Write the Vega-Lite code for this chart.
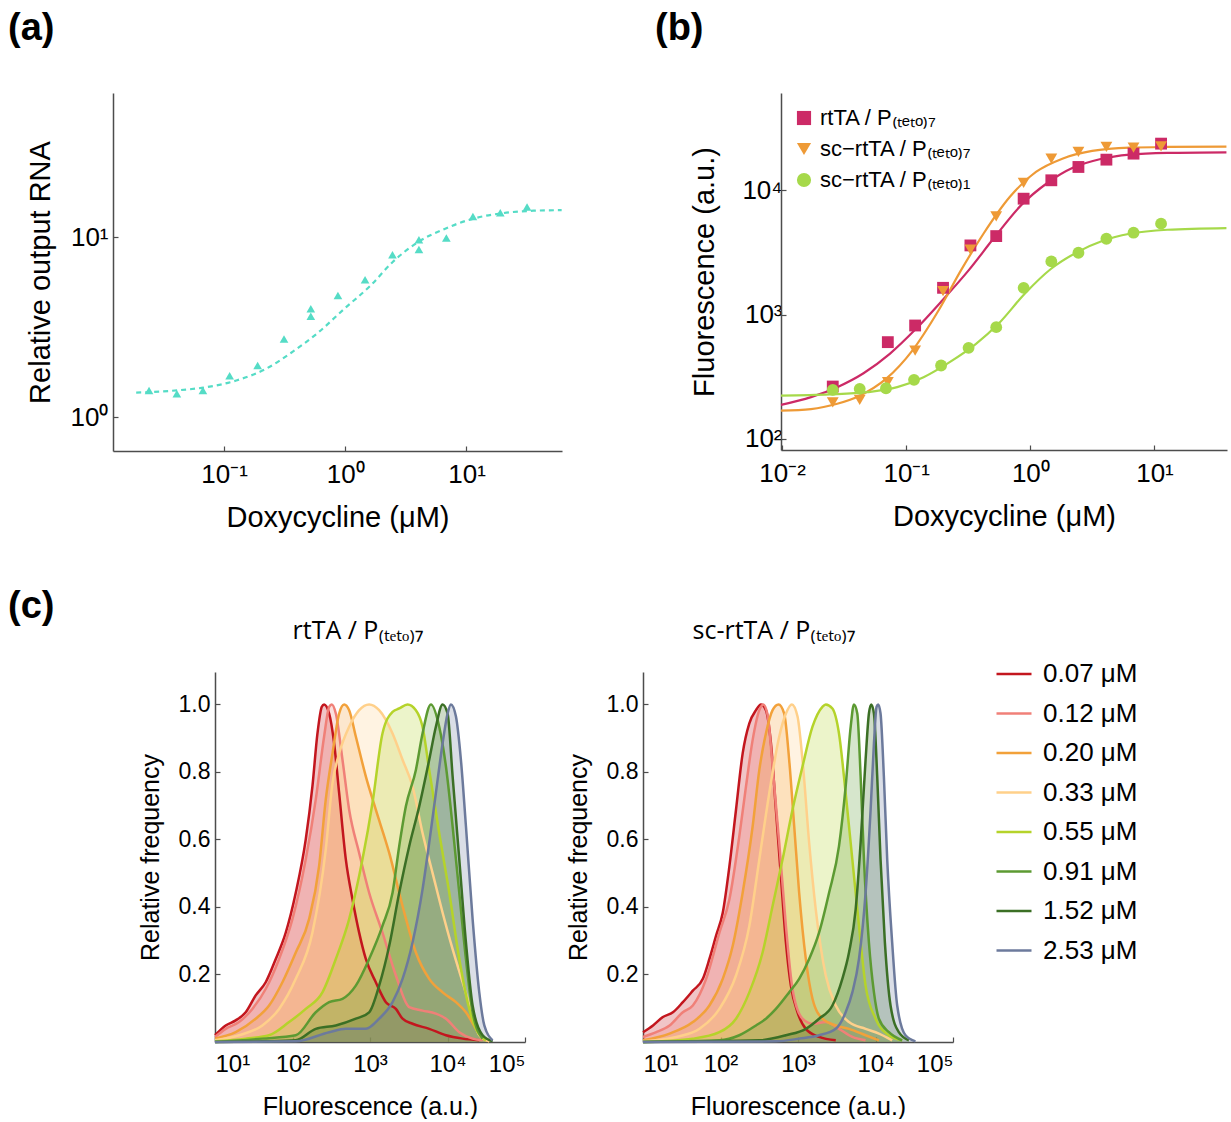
{
  "$schema": "https://vega.github.io/schema/vega-lite/v6.json",
  "background": "white",
  "padding": {"left": 8, "top": 10, "right": 0, "bottom": 0},
  "config": {
    "view": {"stroke": null},
    "font": "Liberation Sans",
    "axis": {"grid": false, "domainColor": "#4d4d4d", "tickColor": "#4d4d4d", "domainWidth": 1.5, "tickWidth": 1.2, "tickSize": -5, "labelPadding": 10, "labelColor": "black", "titleColor": "black", "titleFontWeight": "normal", "labelFont": "Liberation Sans", "titleFont": "Liberation Sans"},
    "legend": {"labelFont": "Liberation Sans", "labelColor": "black"},
    "title": {"color": "black"}
  },
  "datasets": {
    "aPts": [
      {"dox": 0.024, "rna": 1.41}, {"dox": 0.0407, "rna": 1.35}, {"dox": 0.0668, "rna": 1.41}, {"dox": 0.111, "rna": 1.70},
      {"dox": 0.189, "rna": 1.94}, {"dox": 0.312, "rna": 2.72}, {"dox": 0.519, "rna": 4.0}, {"dox": 0.519, "rna": 3.64},
      {"dox": 0.869, "rna": 4.74}, {"dox": 1.455, "rna": 5.79}, {"dox": 2.45, "rna": 7.98}, {"dox": 4.05, "rna": 9.67},
      {"dox": 4.05, "rna": 8.54}, {"dox": 6.82, "rna": 9.87}, {"dox": 11.3, "rna": 13.0}, {"dox": 19.0, "rna": 13.65},
      {"dox": 31.6, "rna": 14.7}
    ],
    "aFit": [
      {"dox": 0.0188, "rna": 1.37}, {"dox": 0.0407, "rna": 1.41}, {"dox": 0.0718, "rna": 1.47}, {"dox": 0.126, "rna": 1.60},
      {"dox": 0.222, "rna": 1.86}, {"dox": 0.364, "rna": 2.30}, {"dox": 0.60, "rna": 2.96}, {"dox": 0.98, "rna": 4.0},
      {"dox": 1.61, "rna": 5.37}, {"dox": 2.45, "rna": 7.25}, {"dox": 4.0, "rna": 9.4}, {"dox": 6.6, "rna": 11.1},
      {"dox": 11.6, "rna": 12.7}, {"dox": 20.4, "rna": 13.6}, {"dox": 35.8, "rna": 14.0}, {"dox": 61, "rna": 14.1}
    ],
    "bPts": [
      {"construct": "rtTA / P₍ₜₑₜₒ₎₇", "dox": 0.0256, "fluor": 264}, {"construct": "rtTA / P₍ₜₑₜₒ₎₇", "dox": 0.0711, "fluor": 601},
      {"construct": "rtTA / P₍ₜₑₜₒ₎₇", "dox": 0.118, "fluor": 818}, {"construct": "rtTA / P₍ₜₑₜₒ₎₇", "dox": 0.198, "fluor": 1644},
      {"construct": "rtTA / P₍ₜₑₜₒ₎₇", "dox": 0.329, "fluor": 3606}, {"construct": "rtTA / P₍ₜₑₜₒ₎₇", "dox": 0.531, "fluor": 4285},
      {"construct": "rtTA / P₍ₜₑₜₒ₎₇", "dox": 0.883, "fluor": 8570}, {"construct": "rtTA / P₍ₜₑₜₒ₎₇", "dox": 1.476, "fluor": 12050},
      {"construct": "rtTA / P₍ₜₑₜₒ₎₇", "dox": 2.44, "fluor": 15420}, {"construct": "rtTA / P₍ₜₑₜₒ₎₇", "dox": 4.10, "fluor": 17660},
      {"construct": "rtTA / P₍ₜₑₜₒ₎₇", "dox": 6.78, "fluor": 19740}, {"construct": "rtTA / P₍ₜₑₜₒ₎₇", "dox": 11.3, "fluor": 23760},
      {"construct": "sc−rtTA / P₍ₜₑₜₒ₎₇", "dox": 0.0256, "fluor": 197}, {"construct": "sc−rtTA / P₍ₜₑₜₒ₎₇", "dox": 0.0422, "fluor": 206},
      {"construct": "sc−rtTA / P₍ₜₑₜₒ₎₇", "dox": 0.0711, "fluor": 286}, {"construct": "sc−rtTA / P₍ₜₑₜₒ₎₇", "dox": 0.118, "fluor": 514},
      {"construct": "sc−rtTA / P₍ₜₑₜₒ₎₇", "dox": 0.198, "fluor": 1545}, {"construct": "sc−rtTA / P₍ₜₑₜₒ₎₇", "dox": 0.329, "fluor": 3328},
      {"construct": "sc−rtTA / P₍ₜₑₜₒ₎₇", "dox": 0.531, "fluor": 6175}, {"construct": "sc−rtTA / P₍ₜₑₜₒ₎₇", "dox": 0.883, "fluor": 11460},
      {"construct": "sc−rtTA / P₍ₜₑₜₒ₎₇", "dox": 1.476, "fluor": 17990}, {"construct": "sc−rtTA / P₍ₜₑₜₒ₎₇", "dox": 2.44, "fluor": 20360},
      {"construct": "sc−rtTA / P₍ₜₑₜₒ₎₇", "dox": 4.10, "fluor": 22340}, {"construct": "sc−rtTA / P₍ₜₑₜₒ₎₇", "dox": 6.78, "fluor": 22060},
      {"construct": "sc−rtTA / P₍ₜₑₜₒ₎₇", "dox": 11.3, "fluor": 22590},
      {"construct": "sc−rtTA / P₍ₜₑₜₒ₎₁", "dox": 0.0256, "fluor": 248}, {"construct": "sc−rtTA / P₍ₜₑₜₒ₎₁", "dox": 0.0422, "fluor": 253},
      {"construct": "sc−rtTA / P₍ₜₑₜₒ₎₁", "dox": 0.0687, "fluor": 256}, {"construct": "sc−rtTA / P₍ₜₑₜₒ₎₁", "dox": 0.1156, "fluor": 299},
      {"construct": "sc−rtTA / P₍ₜₑₜₒ₎₁", "dox": 0.191, "fluor": 390}, {"construct": "sc−rtTA / P₍ₜₑₜₒ₎₁", "dox": 0.318, "fluor": 541},
      {"construct": "sc−rtTA / P₍ₜₑₜₒ₎₁", "dox": 0.531, "fluor": 793}, {"construct": "sc−rtTA / P₍ₜₑₜₒ₎₁", "dox": 0.883, "fluor": 1644},
      {"construct": "sc−rtTA / P₍ₜₑₜₒ₎₁", "dox": 1.476, "fluor": 2680}, {"construct": "sc−rtTA / P₍ₜₑₜₒ₎₁", "dox": 2.44, "fluor": 3146},
      {"construct": "sc−rtTA / P₍ₜₑₜₒ₎₁", "dox": 4.10, "fluor": 4080}, {"construct": "sc−rtTA / P₍ₜₑₜₒ₎₁", "dox": 6.78, "fluor": 4563},
      {"construct": "sc−rtTA / P₍ₜₑₜₒ₎₁", "dox": 11.3, "fluor": 5393}
    ],
    "bFit": [
      {"construct": "rtTA / P₍ₜₑₜₒ₎₇", "dox": 0.0098, "fluor": 188}, {"construct": "rtTA / P₍ₜₑₜₒ₎₇", "dox": 0.0171, "fluor": 217},
      {"construct": "rtTA / P₍ₜₑₜₒ₎₇", "dox": 0.0278, "fluor": 261}, {"construct": "rtTA / P₍ₜₑₜₒ₎₇", "dox": 0.0453, "fluor": 338},
      {"construct": "rtTA / P₍ₜₑₜₒ₎₇", "dox": 0.0737, "fluor": 484}, {"construct": "rtTA / P₍ₜₑₜₒ₎₇", "dox": 0.120, "fluor": 769},
      {"construct": "rtTA / P₍ₜₑₜₒ₎₇", "dox": 0.195, "fluor": 1300}, {"construct": "rtTA / P₍ₜₑₜₒ₎₇", "dox": 0.318, "fluor": 2270},
      {"construct": "rtTA / P₍ₜₑₜₒ₎₇", "dox": 0.516, "fluor": 4210}, {"construct": "rtTA / P₍ₜₑₜₒ₎₇", "dox": 0.840, "fluor": 7570},
      {"construct": "rtTA / P₍ₜₑₜₒ₎₇", "dox": 1.37, "fluor": 11460}, {"construct": "rtTA / P₍ₜₑₜₒ₎₇", "dox": 2.22, "fluor": 15240},
      {"construct": "rtTA / P₍ₜₑₜₒ₎₇", "dox": 3.62, "fluor": 17780}, {"construct": "rtTA / P₍ₜₑₜₒ₎₇", "dox": 6.32, "fluor": 19380},
      {"construct": "rtTA / P₍ₜₑₜₒ₎₇", "dox": 12.7, "fluor": 19990}, {"construct": "rtTA / P₍ₜₑₜₒ₎₇", "dox": 38, "fluor": 20220},
      {"construct": "sc−rtTA / P₍ₜₑₜₒ₎₇", "dox": 0.0098, "fluor": 169}, {"construct": "sc−rtTA / P₍ₜₑₜₒ₎₇", "dox": 0.0171, "fluor": 174},
      {"construct": "sc−rtTA / P₍ₜₑₜₒ₎₇", "dox": 0.0278, "fluor": 192}, {"construct": "sc−rtTA / P₍ₜₑₜₒ₎₇", "dox": 0.0422, "fluor": 223},
      {"construct": "sc−rtTA / P₍ₜₑₜₒ₎₇", "dox": 0.0687, "fluor": 304}, {"construct": "sc−rtTA / P₍ₜₑₜₒ₎₇", "dox": 0.112, "fluor": 514},
      {"construct": "sc−rtTA / P₍ₜₑₜₒ₎₇", "dox": 0.182, "fluor": 1080}, {"construct": "sc−rtTA / P₍ₜₑₜₒ₎₇", "dox": 0.276, "fluor": 2270},
      {"construct": "sc−rtTA / P₍ₜₑₜₒ₎₇", "dox": 0.419, "fluor": 4475}, {"construct": "sc−rtTA / P₍ₜₑₜₒ₎₇", "dox": 0.682, "fluor": 8830},
      {"construct": "sc−rtTA / P₍ₜₑₜₒ₎₇", "dox": 1.11, "fluor": 14060}, {"construct": "sc−rtTA / P₍ₜₑₜₒ₎₇", "dox": 1.81, "fluor": 17990},
      {"construct": "sc−rtTA / P₍ₜₑₜₒ₎₇", "dox": 3.15, "fluor": 20750}, {"construct": "sc−rtTA / P₍ₜₑₜₒ₎₇", "dox": 6.32, "fluor": 22060},
      {"construct": "sc−rtTA / P₍ₜₑₜₒ₎₇", "dox": 12.7, "fluor": 22340}, {"construct": "sc−rtTA / P₍ₜₑₜₒ₎₇", "dox": 38, "fluor": 22470},
      {"construct": "sc−rtTA / P₍ₜₑₜₒ₎₁", "dox": 0.0098, "fluor": 223}, {"construct": "sc−rtTA / P₍ₜₑₜₒ₎₁", "dox": 0.0242, "fluor": 228},
      {"construct": "sc−rtTA / P₍ₜₑₜₒ₎₁", "dox": 0.0485, "fluor": 238}, {"construct": "sc−rtTA / P₍ₜₑₜₒ₎₁", "dox": 0.0846, "fluor": 261},
      {"construct": "sc−rtTA / P₍ₜₑₜₒ₎₁", "dox": 0.138, "fluor": 314}, {"construct": "sc−rtTA / P₍ₜₑₜₒ₎₁", "dox": 0.224, "fluor": 415},
      {"construct": "sc−rtTA / P₍ₜₑₜₒ₎₁", "dox": 0.365, "fluor": 582}, {"construct": "sc−rtTA / P₍ₜₑₜₒ₎₁", "dox": 0.553, "fluor": 844},
      {"construct": "sc−rtTA / P₍ₜₑₜₒ₎₁", "dox": 0.901, "fluor": 1473}, {"construct": "sc−rtTA / P₍ₜₑₜₒ₎₁", "dox": 1.47, "fluor": 2340},
      {"construct": "sc−rtTA / P₍ₜₑₜₒ₎₁", "dox": 2.39, "fluor": 3186}, {"construct": "sc−rtTA / P₍ₜₑₜₒ₎₁", "dox": 3.88, "fluor": 3954},
      {"construct": "sc−rtTA / P₍ₜₑₜₒ₎₁", "dox": 6.32, "fluor": 4475}, {"construct": "sc−rtTA / P₍ₜₑₜₒ₎₁", "dox": 12.7, "fluor": 4820},
      {"construct": "sc−rtTA / P₍ₜₑₜₒ₎₁", "dox": 38, "fluor": 4970}
    ],
    "c1": [
      {"dose": "0.07 μM", "logF": 1.000, "freq": 0.020}, {"dose": "0.07 μM", "logF": 1.138, "freq": 0.049}, {"dose": "0.07 μM", "logF": 1.267, "freq": 0.064},
      {"dose": "0.07 μM", "logF": 1.396, "freq": 0.088}, {"dose": "0.07 μM", "logF": 1.525, "freq": 0.138}, {"dose": "0.07 μM", "logF": 1.654, "freq": 0.177},
      {"dose": "0.07 μM", "logF": 1.784, "freq": 0.246}, {"dose": "0.07 μM", "logF": 1.913, "freq": 0.324}, {"dose": "0.07 μM", "logF": 2.042, "freq": 0.442},
      {"dose": "0.07 μM", "logF": 2.171, "freq": 0.600}, {"dose": "0.07 μM", "logF": 2.257, "freq": 0.757}, {"dose": "0.07 μM", "logF": 2.322, "freq": 0.914},
      {"dose": "0.07 μM", "logF": 2.378, "freq": 0.993}, {"dose": "0.07 μM", "logF": 2.408, "freq": 1.000}, {"dose": "0.07 μM", "logF": 2.473, "freq": 0.973},
      {"dose": "0.07 μM", "logF": 2.537, "freq": 0.885}, {"dose": "0.07 μM", "logF": 2.602, "freq": 0.737}, {"dose": "0.07 μM", "logF": 2.688, "freq": 0.541},
      {"dose": "0.07 μM", "logF": 2.774, "freq": 0.423}, {"dose": "0.07 μM", "logF": 2.860, "freq": 0.324}, {"dose": "0.07 μM", "logF": 2.946, "freq": 0.246},
      {"dose": "0.07 μM", "logF": 3.075, "freq": 0.177}, {"dose": "0.07 μM", "logF": 3.205, "freq": 0.118}, {"dose": "0.07 μM", "logF": 3.334, "freq": 0.098},
      {"dose": "0.07 μM", "logF": 3.420, "freq": 0.069}, {"dose": "0.07 μM", "logF": 3.549, "freq": 0.054}, {"dose": "0.07 μM", "logF": 3.764, "freq": 0.039},
      {"dose": "0.07 μM", "logF": 3.980, "freq": 0.020}, {"dose": "0.07 μM", "logF": 4.195, "freq": 0.010}, {"dose": "0.07 μM", "logF": 4.410, "freq": 0.005},

      {"dose": "0.12 μM", "logF": 1.000, "freq": 0.015}, {"dose": "0.12 μM", "logF": 1.138, "freq": 0.039}, {"dose": "0.12 μM", "logF": 1.310, "freq": 0.059},
      {"dose": "0.12 μM", "logF": 1.482, "freq": 0.098}, {"dose": "0.12 μM", "logF": 1.654, "freq": 0.157}, {"dose": "0.12 μM", "logF": 1.827, "freq": 0.246},
      {"dose": "0.12 μM", "logF": 1.999, "freq": 0.364}, {"dose": "0.12 μM", "logF": 2.171, "freq": 0.541}, {"dose": "0.12 μM", "logF": 2.300, "freq": 0.718},
      {"dose": "0.12 μM", "logF": 2.408, "freq": 0.905}, {"dose": "0.12 μM", "logF": 2.473, "freq": 0.993}, {"dose": "0.12 μM", "logF": 2.507, "freq": 1.000},
      {"dose": "0.12 μM", "logF": 2.559, "freq": 0.973}, {"dose": "0.12 μM", "logF": 2.645, "freq": 0.836}, {"dose": "0.12 μM", "logF": 2.731, "freq": 0.688},
      {"dose": "0.12 μM", "logF": 2.860, "freq": 0.560}, {"dose": "0.12 μM", "logF": 2.989, "freq": 0.442}, {"dose": "0.12 μM", "logF": 3.161, "freq": 0.324},
      {"dose": "0.12 μM", "logF": 3.334, "freq": 0.197}, {"dose": "0.12 μM", "logF": 3.506, "freq": 0.103}, {"dose": "0.12 μM", "logF": 3.678, "freq": 0.093},
      {"dose": "0.12 μM", "logF": 3.850, "freq": 0.084}, {"dose": "0.12 μM", "logF": 3.980, "freq": 0.069}, {"dose": "0.12 μM", "logF": 4.152, "freq": 0.029},
      {"dose": "0.12 μM", "logF": 4.324, "freq": 0.010}, {"dose": "0.12 μM", "logF": 4.453, "freq": 0.005},

      {"dose": "0.20 μM", "logF": 1.000, "freq": 0.010}, {"dose": "0.20 μM", "logF": 1.267, "freq": 0.029}, {"dose": "0.20 μM", "logF": 1.525, "freq": 0.069},
      {"dose": "0.20 μM", "logF": 1.698, "freq": 0.108}, {"dose": "0.20 μM", "logF": 1.870, "freq": 0.177}, {"dose": "0.20 μM", "logF": 2.042, "freq": 0.265},
      {"dose": "0.20 μM", "logF": 2.214, "freq": 0.364}, {"dose": "0.20 μM", "logF": 2.343, "freq": 0.521}, {"dose": "0.20 μM", "logF": 2.429, "freq": 0.718},
      {"dose": "0.20 μM", "logF": 2.516, "freq": 0.855}, {"dose": "0.20 μM", "logF": 2.602, "freq": 0.973}, {"dose": "0.20 μM", "logF": 2.666, "freq": 1.000},
      {"dose": "0.20 μM", "logF": 2.731, "freq": 0.983}, {"dose": "0.20 μM", "logF": 2.817, "freq": 0.905}, {"dose": "0.20 μM", "logF": 2.946, "freq": 0.787},
      {"dose": "0.20 μM", "logF": 3.075, "freq": 0.688}, {"dose": "0.20 μM", "logF": 3.248, "freq": 0.560}, {"dose": "0.20 μM", "logF": 3.420, "freq": 0.403},
      {"dose": "0.20 μM", "logF": 3.592, "freq": 0.265}, {"dose": "0.20 μM", "logF": 3.764, "freq": 0.187}, {"dose": "0.20 μM", "logF": 3.937, "freq": 0.147},
      {"dose": "0.20 μM", "logF": 4.109, "freq": 0.118}, {"dose": "0.20 μM", "logF": 4.238, "freq": 0.088}, {"dose": "0.20 μM", "logF": 4.367, "freq": 0.039},
      {"dose": "0.20 μM", "logF": 4.453, "freq": 0.010}, {"dose": "0.20 μM", "logF": 4.539, "freq": 0.002},

      {"dose": "0.33 μM", "logF": 1.000, "freq": 0.005}, {"dose": "0.33 μM", "logF": 1.310, "freq": 0.020}, {"dose": "0.33 μM", "logF": 1.611, "freq": 0.049},
      {"dose": "0.33 μM", "logF": 1.827, "freq": 0.098}, {"dose": "0.33 μM", "logF": 2.042, "freq": 0.187}, {"dose": "0.33 μM", "logF": 2.257, "freq": 0.324},
      {"dose": "0.33 μM", "logF": 2.429, "freq": 0.570}, {"dose": "0.33 μM", "logF": 2.516, "freq": 0.767}, {"dose": "0.33 μM", "logF": 2.602, "freq": 0.855},
      {"dose": "0.33 μM", "logF": 2.731, "freq": 0.934}, {"dose": "0.33 μM", "logF": 2.860, "freq": 0.983}, {"dose": "0.33 μM", "logF": 2.989, "freq": 1.000},
      {"dose": "0.33 μM", "logF": 3.118, "freq": 0.983}, {"dose": "0.33 μM", "logF": 3.291, "freq": 0.914}, {"dose": "0.33 μM", "logF": 3.420, "freq": 0.836},
      {"dose": "0.33 μM", "logF": 3.549, "freq": 0.757}, {"dose": "0.33 μM", "logF": 3.678, "freq": 0.619}, {"dose": "0.33 μM", "logF": 3.807, "freq": 0.501},
      {"dose": "0.33 μM", "logF": 3.937, "freq": 0.383}, {"dose": "0.33 μM", "logF": 4.066, "freq": 0.275}, {"dose": "0.33 μM", "logF": 4.195, "freq": 0.177},
      {"dose": "0.33 μM", "logF": 4.324, "freq": 0.079}, {"dose": "0.33 μM", "logF": 4.410, "freq": 0.020}, {"dose": "0.33 μM", "logF": 4.539, "freq": 0.002},

      {"dose": "0.55 μM", "logF": 1.000, "freq": 0.002}, {"dose": "0.55 μM", "logF": 1.396, "freq": 0.010}, {"dose": "0.55 μM", "logF": 1.698, "freq": 0.020},
      {"dose": "0.55 μM", "logF": 1.956, "freq": 0.059}, {"dose": "0.55 μM", "logF": 2.171, "freq": 0.098}, {"dose": "0.55 μM", "logF": 2.386, "freq": 0.147},
      {"dose": "0.55 μM", "logF": 2.559, "freq": 0.246}, {"dose": "0.55 μM", "logF": 2.731, "freq": 0.364}, {"dose": "0.55 μM", "logF": 2.903, "freq": 0.541},
      {"dose": "0.55 μM", "logF": 3.032, "freq": 0.708}, {"dose": "0.55 μM", "logF": 3.161, "freq": 0.914}, {"dose": "0.55 μM", "logF": 3.291, "freq": 0.978},
      {"dose": "0.55 μM", "logF": 3.377, "freq": 0.988}, {"dose": "0.55 μM", "logF": 3.484, "freq": 1.000}, {"dose": "0.55 μM", "logF": 3.592, "freq": 0.983},
      {"dose": "0.55 μM", "logF": 3.678, "freq": 0.934}, {"dose": "0.55 μM", "logF": 3.764, "freq": 0.806}, {"dose": "0.55 μM", "logF": 3.893, "freq": 0.619},
      {"dose": "0.55 μM", "logF": 4.023, "freq": 0.442}, {"dose": "0.55 μM", "logF": 4.152, "freq": 0.246}, {"dose": "0.55 μM", "logF": 4.281, "freq": 0.098},
      {"dose": "0.55 μM", "logF": 4.367, "freq": 0.039}, {"dose": "0.55 μM", "logF": 4.496, "freq": 0.005},

      {"dose": "0.91 μM", "logF": 1.000, "freq": 0.000}, {"dose": "0.91 μM", "logF": 1.611, "freq": 0.010}, {"dose": "0.91 μM", "logF": 2.042, "freq": 0.020},
      {"dose": "0.91 μM", "logF": 2.300, "freq": 0.088}, {"dose": "0.91 μM", "logF": 2.473, "freq": 0.118}, {"dose": "0.91 μM", "logF": 2.645, "freq": 0.128},
      {"dose": "0.91 μM", "logF": 2.817, "freq": 0.167}, {"dose": "0.91 μM", "logF": 2.989, "freq": 0.246}, {"dose": "0.91 μM", "logF": 3.161, "freq": 0.344},
      {"dose": "0.91 μM", "logF": 3.291, "freq": 0.442}, {"dose": "0.91 μM", "logF": 3.377, "freq": 0.580}, {"dose": "0.91 μM", "logF": 3.463, "freq": 0.698},
      {"dose": "0.91 μM", "logF": 3.592, "freq": 0.806}, {"dose": "0.91 μM", "logF": 3.678, "freq": 0.914}, {"dose": "0.91 μM", "logF": 3.786, "freq": 1.000},
      {"dose": "0.91 μM", "logF": 3.893, "freq": 0.934}, {"dose": "0.91 μM", "logF": 3.980, "freq": 0.816}, {"dose": "0.91 μM", "logF": 4.066, "freq": 0.639},
      {"dose": "0.91 μM", "logF": 4.152, "freq": 0.442}, {"dose": "0.91 μM", "logF": 4.238, "freq": 0.246}, {"dose": "0.91 μM", "logF": 4.324, "freq": 0.088},
      {"dose": "0.91 μM", "logF": 4.453, "freq": 0.010},

      {"dose": "1.52 μM", "logF": 1.000, "freq": 0.000}, {"dose": "1.52 μM", "logF": 1.611, "freq": 0.002}, {"dose": "1.52 μM", "logF": 2.042, "freq": 0.005},
      {"dose": "1.52 μM", "logF": 2.300, "freq": 0.039}, {"dose": "1.52 μM", "logF": 2.559, "freq": 0.049}, {"dose": "1.52 μM", "logF": 2.817, "freq": 0.069},
      {"dose": "1.52 μM", "logF": 2.989, "freq": 0.088}, {"dose": "1.52 μM", "logF": 3.118, "freq": 0.167}, {"dose": "1.52 μM", "logF": 3.248, "freq": 0.285},
      {"dose": "1.52 μM", "logF": 3.377, "freq": 0.442}, {"dose": "1.52 μM", "logF": 3.506, "freq": 0.580}, {"dose": "1.52 μM", "logF": 3.635, "freq": 0.698},
      {"dose": "1.52 μM", "logF": 3.764, "freq": 0.836}, {"dose": "1.52 μM", "logF": 3.850, "freq": 0.934}, {"dose": "1.52 μM", "logF": 3.937, "freq": 1.000},
      {"dose": "1.52 μM", "logF": 4.001, "freq": 0.973}, {"dose": "1.52 μM", "logF": 4.066, "freq": 0.787}, {"dose": "1.52 μM", "logF": 4.152, "freq": 0.541},
      {"dose": "1.52 μM", "logF": 4.238, "freq": 0.295}, {"dose": "1.52 μM", "logF": 4.324, "freq": 0.108}, {"dose": "1.52 μM", "logF": 4.453, "freq": 0.020},
      {"dose": "1.52 μM", "logF": 4.582, "freq": 0.002},

      {"dose": "2.53 μM", "logF": 1.000, "freq": 0.000}, {"dose": "2.53 μM", "logF": 2.042, "freq": 0.002}, {"dose": "2.53 μM", "logF": 2.473, "freq": 0.029},
      {"dose": "2.53 μM", "logF": 2.688, "freq": 0.039}, {"dose": "2.53 μM", "logF": 2.946, "freq": 0.039}, {"dose": "2.53 μM", "logF": 3.118, "freq": 0.069},
      {"dose": "2.53 μM", "logF": 3.291, "freq": 0.118}, {"dose": "2.53 μM", "logF": 3.420, "freq": 0.187}, {"dose": "2.53 μM", "logF": 3.549, "freq": 0.295},
      {"dose": "2.53 μM", "logF": 3.678, "freq": 0.452}, {"dose": "2.53 μM", "logF": 3.764, "freq": 0.590}, {"dose": "2.53 μM", "logF": 3.850, "freq": 0.737},
      {"dose": "2.53 μM", "logF": 3.937, "freq": 0.885}, {"dose": "2.53 μM", "logF": 4.001, "freq": 0.973}, {"dose": "2.53 μM", "logF": 4.044, "freq": 1.000},
      {"dose": "2.53 μM", "logF": 4.109, "freq": 0.964}, {"dose": "2.53 μM", "logF": 4.173, "freq": 0.836}, {"dose": "2.53 μM", "logF": 4.238, "freq": 0.639},
      {"dose": "2.53 μM", "logF": 4.324, "freq": 0.364}, {"dose": "2.53 μM", "logF": 4.410, "freq": 0.147}, {"dose": "2.53 μM", "logF": 4.475, "freq": 0.049},
      {"dose": "2.53 μM", "logF": 4.582, "freq": 0.005}
    ],
    "c2": [
      {"dose": "0.07 μM", "logF": 1.000, "freq": 0.029}, {"dose": "0.07 μM", "logF": 1.129, "freq": 0.049}, {"dose": "0.07 μM", "logF": 1.257, "freq": 0.074},
      {"dose": "0.07 μM", "logF": 1.386, "freq": 0.088}, {"dose": "0.07 μM", "logF": 1.514, "freq": 0.118}, {"dose": "0.07 μM", "logF": 1.643, "freq": 0.152},
      {"dose": "0.07 μM", "logF": 1.772, "freq": 0.187}, {"dose": "0.07 μM", "logF": 1.857, "freq": 0.246}, {"dose": "0.07 μM", "logF": 1.943, "freq": 0.315},
      {"dose": "0.07 μM", "logF": 2.029, "freq": 0.383}, {"dose": "0.07 μM", "logF": 2.115, "freq": 0.521}, {"dose": "0.07 μM", "logF": 2.200, "freq": 0.688},
      {"dose": "0.07 μM", "logF": 2.286, "freq": 0.855}, {"dose": "0.07 μM", "logF": 2.372, "freq": 0.944}, {"dose": "0.07 μM", "logF": 2.458, "freq": 0.983},
      {"dose": "0.07 μM", "logF": 2.522, "freq": 1.000}, {"dose": "0.07 μM", "logF": 2.586, "freq": 0.983}, {"dose": "0.07 μM", "logF": 2.651, "freq": 0.885},
      {"dose": "0.07 μM", "logF": 2.715, "freq": 0.688}, {"dose": "0.07 μM", "logF": 2.779, "freq": 0.492}, {"dose": "0.07 μM", "logF": 2.844, "freq": 0.295},
      {"dose": "0.07 μM", "logF": 2.908, "freq": 0.167}, {"dose": "0.07 μM", "logF": 2.994, "freq": 0.088}, {"dose": "0.07 μM", "logF": 3.101, "freq": 0.039},
      {"dose": "0.07 μM", "logF": 3.272, "freq": 0.015}, {"dose": "0.07 μM", "logF": 3.487, "freq": 0.005},

      {"dose": "0.12 μM", "logF": 1.000, "freq": 0.015}, {"dose": "0.12 μM", "logF": 1.171, "freq": 0.029}, {"dose": "0.12 μM", "logF": 1.343, "freq": 0.049},
      {"dose": "0.12 μM", "logF": 1.514, "freq": 0.088}, {"dose": "0.12 μM", "logF": 1.643, "freq": 0.108}, {"dose": "0.12 μM", "logF": 1.815, "freq": 0.187},
      {"dose": "0.12 μM", "logF": 1.986, "freq": 0.324}, {"dose": "0.12 μM", "logF": 2.115, "freq": 0.423}, {"dose": "0.12 μM", "logF": 2.243, "freq": 0.610},
      {"dose": "0.12 μM", "logF": 2.329, "freq": 0.757}, {"dose": "0.12 μM", "logF": 2.415, "freq": 0.895}, {"dose": "0.12 μM", "logF": 2.501, "freq": 0.983},
      {"dose": "0.12 μM", "logF": 2.552, "freq": 1.000}, {"dose": "0.12 μM", "logF": 2.608, "freq": 0.969}, {"dose": "0.12 μM", "logF": 2.672, "freq": 0.816},
      {"dose": "0.12 μM", "logF": 2.758, "freq": 0.590}, {"dose": "0.12 μM", "logF": 2.844, "freq": 0.344}, {"dose": "0.12 μM", "logF": 2.929, "freq": 0.157},
      {"dose": "0.12 μM", "logF": 3.058, "freq": 0.069}, {"dose": "0.12 μM", "logF": 3.187, "freq": 0.054}, {"dose": "0.12 μM", "logF": 3.358, "freq": 0.059},
      {"dose": "0.12 μM", "logF": 3.529, "freq": 0.039}, {"dose": "0.12 μM", "logF": 3.701, "freq": 0.015}, {"dose": "0.12 μM", "logF": 3.872, "freq": 0.005},

      {"dose": "0.20 μM", "logF": 1.000, "freq": 0.005}, {"dose": "0.20 μM", "logF": 1.343, "freq": 0.025}, {"dose": "0.20 μM", "logF": 1.643, "freq": 0.059},
      {"dose": "0.20 μM", "logF": 1.857, "freq": 0.108}, {"dose": "0.20 μM", "logF": 2.029, "freq": 0.187}, {"dose": "0.20 μM", "logF": 2.158, "freq": 0.285},
      {"dose": "0.20 μM", "logF": 2.286, "freq": 0.442}, {"dose": "0.20 μM", "logF": 2.415, "freq": 0.639}, {"dose": "0.20 μM", "logF": 2.501, "freq": 0.806},
      {"dose": "0.20 μM", "logF": 2.586, "freq": 0.914}, {"dose": "0.20 μM", "logF": 2.672, "freq": 0.983}, {"dose": "0.20 μM", "logF": 2.749, "freq": 1.000},
      {"dose": "0.20 μM", "logF": 2.822, "freq": 0.973}, {"dose": "0.20 μM", "logF": 2.886, "freq": 0.836}, {"dose": "0.20 μM", "logF": 2.951, "freq": 0.639},
      {"dose": "0.20 μM", "logF": 3.015, "freq": 0.442}, {"dose": "0.20 μM", "logF": 3.101, "freq": 0.246}, {"dose": "0.20 μM", "logF": 3.187, "freq": 0.128},
      {"dose": "0.20 μM", "logF": 3.315, "freq": 0.069}, {"dose": "0.20 μM", "logF": 3.487, "freq": 0.049}, {"dose": "0.20 μM", "logF": 3.658, "freq": 0.039},
      {"dose": "0.20 μM", "logF": 3.872, "freq": 0.020}, {"dose": "0.20 μM", "logF": 4.044, "freq": 0.005},

      {"dose": "0.33 μM", "logF": 1.000, "freq": 0.002}, {"dose": "0.33 μM", "logF": 1.429, "freq": 0.015}, {"dose": "0.33 μM", "logF": 1.729, "freq": 0.039},
      {"dose": "0.33 μM", "logF": 1.986, "freq": 0.098}, {"dose": "0.33 μM", "logF": 2.200, "freq": 0.197}, {"dose": "0.33 μM", "logF": 2.372, "freq": 0.344},
      {"dose": "0.33 μM", "logF": 2.501, "freq": 0.541}, {"dose": "0.33 μM", "logF": 2.629, "freq": 0.737}, {"dose": "0.33 μM", "logF": 2.758, "freq": 0.905},
      {"dose": "0.33 μM", "logF": 2.844, "freq": 0.973}, {"dose": "0.33 μM", "logF": 2.921, "freq": 1.000}, {"dose": "0.33 μM", "logF": 2.994, "freq": 0.964},
      {"dose": "0.33 μM", "logF": 3.058, "freq": 0.836}, {"dose": "0.33 μM", "logF": 3.144, "freq": 0.590}, {"dose": "0.33 μM", "logF": 3.229, "freq": 0.393},
      {"dose": "0.33 μM", "logF": 3.358, "freq": 0.197}, {"dose": "0.33 μM", "logF": 3.487, "freq": 0.108}, {"dose": "0.33 μM", "logF": 3.658, "freq": 0.059},
      {"dose": "0.33 μM", "logF": 3.872, "freq": 0.039}, {"dose": "0.33 μM", "logF": 4.044, "freq": 0.025}, {"dose": "0.33 μM", "logF": 4.215, "freq": 0.005},

      {"dose": "0.55 μM", "logF": 1.000, "freq": 0.000}, {"dose": "0.55 μM", "logF": 1.643, "freq": 0.010}, {"dose": "0.55 μM", "logF": 1.986, "freq": 0.029},
      {"dose": "0.55 μM", "logF": 2.200, "freq": 0.069}, {"dose": "0.55 μM", "logF": 2.372, "freq": 0.147}, {"dose": "0.55 μM", "logF": 2.543, "freq": 0.265},
      {"dose": "0.55 μM", "logF": 2.672, "freq": 0.403}, {"dose": "0.55 μM", "logF": 2.801, "freq": 0.541}, {"dose": "0.55 μM", "logF": 2.929, "freq": 0.688},
      {"dose": "0.55 μM", "logF": 3.058, "freq": 0.816}, {"dose": "0.55 μM", "logF": 3.187, "freq": 0.934}, {"dose": "0.55 μM", "logF": 3.315, "freq": 0.993},
      {"dose": "0.55 μM", "logF": 3.358, "freq": 1.000}, {"dose": "0.55 μM", "logF": 3.444, "freq": 0.988}, {"dose": "0.55 μM", "logF": 3.529, "freq": 0.914},
      {"dose": "0.55 μM", "logF": 3.615, "freq": 0.737}, {"dose": "0.55 μM", "logF": 3.701, "freq": 0.541}, {"dose": "0.55 μM", "logF": 3.787, "freq": 0.344},
      {"dose": "0.55 μM", "logF": 3.872, "freq": 0.167}, {"dose": "0.55 μM", "logF": 4.001, "freq": 0.069}, {"dose": "0.55 μM", "logF": 4.173, "freq": 0.020},
      {"dose": "0.55 μM", "logF": 4.344, "freq": 0.005},

      {"dose": "0.91 μM", "logF": 1.000, "freq": 0.000}, {"dose": "0.91 μM", "logF": 1.986, "freq": 0.005}, {"dose": "0.91 μM", "logF": 2.243, "freq": 0.020},
      {"dose": "0.91 μM", "logF": 2.458, "freq": 0.049}, {"dose": "0.91 μM", "logF": 2.586, "freq": 0.069}, {"dose": "0.91 μM", "logF": 2.715, "freq": 0.098},
      {"dose": "0.91 μM", "logF": 2.886, "freq": 0.147}, {"dose": "0.91 μM", "logF": 3.015, "freq": 0.187}, {"dose": "0.91 μM", "logF": 3.144, "freq": 0.246},
      {"dose": "0.91 μM", "logF": 3.272, "freq": 0.324}, {"dose": "0.91 μM", "logF": 3.401, "freq": 0.442}, {"dose": "0.91 μM", "logF": 3.529, "freq": 0.580},
      {"dose": "0.91 μM", "logF": 3.615, "freq": 0.757}, {"dose": "0.91 μM", "logF": 3.680, "freq": 0.934}, {"dose": "0.91 μM", "logF": 3.722, "freq": 1.000},
      {"dose": "0.91 μM", "logF": 3.765, "freq": 0.973}, {"dose": "0.91 μM", "logF": 3.808, "freq": 0.787}, {"dose": "0.91 μM", "logF": 3.851, "freq": 0.541},
      {"dose": "0.91 μM", "logF": 3.915, "freq": 0.295}, {"dose": "0.91 μM", "logF": 3.980, "freq": 0.147}, {"dose": "0.91 μM", "logF": 4.044, "freq": 0.069},
      {"dose": "0.91 μM", "logF": 4.173, "freq": 0.029}, {"dose": "0.91 μM", "logF": 4.344, "freq": 0.005},

      {"dose": "1.52 μM", "logF": 1.000, "freq": 0.000}, {"dose": "1.52 μM", "logF": 2.501, "freq": 0.005}, {"dose": "1.52 μM", "logF": 2.844, "freq": 0.020},
      {"dose": "1.52 μM", "logF": 3.101, "freq": 0.039}, {"dose": "1.52 μM", "logF": 3.272, "freq": 0.069}, {"dose": "1.52 μM", "logF": 3.444, "freq": 0.108},
      {"dose": "1.52 μM", "logF": 3.572, "freq": 0.187}, {"dose": "1.52 μM", "logF": 3.658, "freq": 0.265}, {"dose": "1.52 μM", "logF": 3.744, "freq": 0.393},
      {"dose": "1.52 μM", "logF": 3.808, "freq": 0.590}, {"dose": "1.52 μM", "logF": 3.872, "freq": 0.836}, {"dose": "1.52 μM", "logF": 3.915, "freq": 0.973},
      {"dose": "1.52 μM", "logF": 3.945, "freq": 1.000}, {"dose": "1.52 μM", "logF": 3.980, "freq": 0.973}, {"dose": "1.52 μM", "logF": 4.022, "freq": 0.787},
      {"dose": "1.52 μM", "logF": 4.065, "freq": 0.541}, {"dose": "1.52 μM", "logF": 4.121, "freq": 0.295}, {"dose": "1.52 μM", "logF": 4.194, "freq": 0.108},
      {"dose": "1.52 μM", "logF": 4.301, "freq": 0.029}, {"dose": "1.52 μM", "logF": 4.430, "freq": 0.005},

      {"dose": "2.53 μM", "logF": 1.000, "freq": 0.000}, {"dose": "2.53 μM", "logF": 2.715, "freq": 0.002}, {"dose": "2.53 μM", "logF": 3.015, "freq": 0.010},
      {"dose": "2.53 μM", "logF": 3.272, "freq": 0.020}, {"dose": "2.53 μM", "logF": 3.487, "freq": 0.039}, {"dose": "2.53 μM", "logF": 3.615, "freq": 0.088},
      {"dose": "2.53 μM", "logF": 3.701, "freq": 0.147}, {"dose": "2.53 μM", "logF": 3.787, "freq": 0.246}, {"dose": "2.53 μM", "logF": 3.872, "freq": 0.442},
      {"dose": "2.53 μM", "logF": 3.937, "freq": 0.688}, {"dose": "2.53 μM", "logF": 3.980, "freq": 0.885}, {"dose": "2.53 μM", "logF": 4.014, "freq": 0.993},
      {"dose": "2.53 μM", "logF": 4.035, "freq": 1.000}, {"dose": "2.53 μM", "logF": 4.065, "freq": 0.973}, {"dose": "2.53 μM", "logF": 4.108, "freq": 0.787},
      {"dose": "2.53 μM", "logF": 4.151, "freq": 0.541}, {"dose": "2.53 μM", "logF": 4.215, "freq": 0.295}, {"dose": "2.53 μM", "logF": 4.280, "freq": 0.108},
      {"dose": "2.53 μM", "logF": 4.387, "freq": 0.020}, {"dose": "2.53 μM", "logF": 4.516, "freq": 0.002}
    ]
  },
  "resolve": {"scale": {"color": "independent", "fill": "independent", "stroke": "independent", "shape": "independent"}},
  "bounds": "full",
  "spacing": 55,
  "vconcat": [
    {
      "bounds": "flush",
      "spacing": 219,
      "resolve": {"scale": {"color": "independent", "stroke": "independent", "shape": "independent"}},
      "hconcat": [
        {
          "width": 449, "height": 358,
          "title": {"text": "(a)", "anchor": "start", "frame": "group", "dx": -105, "offset": 45, "fontSize": 38, "fontWeight": "bold", "font": "Liberation Sans"},
          "layer": [
            {
              "data": {"name": "aFit"},
              "mark": {"type": "line", "strokeDash": [5, 4], "strokeWidth": 2.2, "color": "#55DCC6", "interpolate": "monotone"},
              "encoding": {
                "x": {"field": "dox", "type": "quantitative", "scale": {"type": "log", "domain": [0.0121, 61.4], "nice": false},
                      "axis": {"values": [0.1, 1, 10], "labelExpr": "'10' + ['⁻²','⁻¹','⁰','¹','²','³','⁴','⁵'][round(log(datum.value)/LN10)+2]", "title": "Doxycycline (μM)", "titleFontSize": 29, "labelFontSize": 26, "labelPadding": 15, "titlePadding": 16}},
                "y": {"field": "rna", "type": "quantitative", "scale": {"type": "log", "domain": [0.65, 63], "nice": false},
                      "axis": {"values": [1, 10], "labelExpr": "'10' + ['⁻²','⁻¹','⁰','¹','²','³','⁴','⁵'][round(log(datum.value)/LN10)+2]", "title": "Relative output RNA", "titleFontSize": 29, "labelFontSize": 26, "titlePadding": 15}}
              }
            },
            {
              "data": {"name": "aPts"},
              "mark": {"type": "point", "shape": "triangle-up", "filled": true, "size": 75, "color": "#55DCC6", "opacity": 1},
              "encoding": {
                "x": {"field": "dox", "type": "quantitative"},
                "y": {"field": "rna", "type": "quantitative"}
              }
            }
          ]
        },
        {
          "width": 446, "height": 357,
          "title": {"text": "(b)", "anchor": "start", "frame": "group", "dx": -126, "offset": 45, "fontSize": 38, "fontWeight": "bold", "font": "Liberation Sans"},
          "layer": [
            {
              "data": {"name": "bFit"},
              "mark": {"type": "line", "strokeWidth": 2.2, "interpolate": "monotone"},
              "encoding": {
                "x": {"field": "dox", "type": "quantitative", "scale": {"type": "log", "domain": [0.0098, 38.4], "nice": false},
                      "axis": {"values": [0.01, 0.1, 1, 10], "labelExpr": "'10' + ['⁻²','⁻¹','⁰','¹','²','³','⁴','⁵'][round(log(datum.value)/LN10)+2]", "title": "Doxycycline (μM)", "titleFontSize": 29, "labelFontSize": 26, "labelPadding": 15, "titlePadding": 16}},
                "y": {"field": "fluor", "type": "quantitative", "scale": {"type": "log", "domain": [81.5, 60700], "nice": false},
                      "axis": {"values": [100, 1000, 10000], "labelExpr": "'10' + ['⁻²','⁻¹','⁰','¹','²','³','⁴','⁵'][round(log(datum.value)/LN10)+2]", "title": "Fluorescence (a.u.)", "titleFontSize": 29, "labelFontSize": 26, "labelPadding": 4, "titlePadding": 22}},
                "stroke": {"field": "construct", "type": "nominal", "legend": null,
                           "scale": {"range": ["#CC2A66", "#A6D94A", "#EE9A36"]}}
              }
            },
            {
              "data": {"name": "bPts"},
              "mark": {"type": "point", "filled": true, "size": 140, "opacity": 1},
              "encoding": {
                "x": {"field": "dox", "type": "quantitative"},
                "y": {"field": "fluor", "type": "quantitative"},
                "color": {"field": "construct", "type": "nominal",
                          "scale": {"domain": ["rtTA / P₍ₜₑₜₒ₎₇", "sc−rtTA / P₍ₜₑₜₒ₎₇", "sc−rtTA / P₍ₜₑₜₒ₎₁"], "range": ["#CC2A66", "#EE9A36", "#A6D94A"]},
                          "legend": {"orient": "none", "legendX": 12, "legendY": 14, "padding": 0, "title": null, "labelFontSize": 22, "symbolSize": 200, "rowPadding": 9, "labelOffset": 5}},
                "shape": {"field": "construct", "type": "nominal",
                          "scale": {"domain": ["rtTA / P₍ₜₑₜₒ₎₇", "sc−rtTA / P₍ₜₑₜₒ₎₇", "sc−rtTA / P₍ₜₑₜₒ₎₁"], "range": ["square", "triangle-down", "circle"]},
                          "legend": {"orient": "none", "legendX": 12, "legendY": 14, "padding": 0, "title": null, "labelFontSize": 22, "symbolSize": 200, "rowPadding": 9, "labelOffset": 5}}
              }
            }
          ]
        }
      ]
    },
    {
      "bounds": "flush",
      "spacing": 101,
      "resolve": {"scale": {"color": "independent", "fill": "independent"}},
      "hconcat": [
        {
          "width": 1, "height": 1,
          "title": {"text": "(c)", "anchor": "start", "frame": "group", "dx": -105, "offset": 44, "fontSize": 38, "fontWeight": "bold", "font": "Liberation Sans"},
          "data": {"values": [{}]},
          "mark": {"type": "point", "opacity": 0},
          "encoding": {}
        },
        {
          "bounds": "flush",
          "spacing": 118,
          "resolve": {"scale": {"color": "independent", "fill": "independent"}},
          "hconcat": [
            {
              "width": 310, "height": 370,
              "title": {"text": "rtTA / P₍ₜₑₜₒ₎₇", "anchor": "middle", "offset": 28, "dx": -12, "fontSize": 25, "fontWeight": "normal", "font": "Open Sans"},
              "data": {"name": "c1"},
              "layer": [
                {
                  "mark": {"type": "area", "fillOpacity": 0.25, "interpolate": "monotone"},
                  "encoding": {
                    "x": {"field": "logF", "type": "quantitative", "scale": {"domain": [1, 5], "nice": false},
                          "axis": {"values": [1, 2, 3, 4, 5], "labelExpr": "'10' + ['⁰','¹','²','³','⁴','⁵'][datum.value]", "title": "Fluorescence (a.u.)", "titleFontSize": 25, "labelFontSize": 24, "labelPadding": 15, "titlePadding": 18}},
                    "y": {"field": "freq", "type": "quantitative", "stack": null, "scale": {"domain": [0, 1.096], "nice": false},
                          "axis": {"values": [0.2, 0.4, 0.6, 0.8, 1.0], "format": ".1f", "title": "Relative frequency", "titleFontSize": 25, "labelFontSize": 23, "titlePadding": 15}},
                    "fill": {"field": "dose", "type": "nominal", "legend": null,
                             "scale": {"range": ["#C3161E", "#F08078", "#F2A13A", "#FFD08A", "#B5D32A", "#5C9A32", "#3B6F25", "#6C7A9C"]}}
                  }
                },
                {
                  "mark": {"type": "line", "strokeWidth": 2.5, "interpolate": "monotone"},
                  "encoding": {
                    "x": {"field": "logF", "type": "quantitative"},
                    "y": {"field": "freq", "type": "quantitative"},
                    "color": {"field": "dose", "type": "nominal", "legend": null,
                              "scale": {"domain": ["0.07 μM", "0.12 μM", "0.20 μM", "0.33 μM", "0.55 μM", "0.91 μM", "1.52 μM", "2.53 μM"], "range": ["#C3161E", "#F08078", "#F2A13A", "#FFD08A", "#B5D32A", "#5C9A32", "#3B6F25", "#6C7A9C"]}}
                  }
                }
              ]
            },
            {
              "width": 310, "height": 370,
              "title": {"text": "sc-rtTA / P₍ₜₑₜₒ₎₇", "anchor": "middle", "offset": 11, "dx": -24, "fontSize": 25, "fontWeight": "normal", "font": "Open Sans"},
              "data": {"name": "c2"},
              "layer": [
                {
                  "mark": {"type": "area", "fillOpacity": 0.25, "interpolate": "monotone"},
                  "encoding": {
                    "x": {"field": "logF", "type": "quantitative", "scale": {"domain": [1, 5], "nice": false},
                          "axis": {"values": [1, 2, 3, 4, 5], "labelExpr": "'10' + ['⁰','¹','²','³','⁴','⁵'][datum.value]", "title": "Fluorescence (a.u.)", "titleFontSize": 25, "labelFontSize": 24, "labelPadding": 15, "titlePadding": 18}},
                    "y": {"field": "freq", "type": "quantitative", "stack": null, "scale": {"domain": [0, 1.096], "nice": false},
                          "axis": {"values": [0.2, 0.4, 0.6, 0.8, 1.0], "format": ".1f", "title": "Relative frequency", "titleFontSize": 25, "labelFontSize": 23, "titlePadding": 15}},
                    "fill": {"field": "dose", "type": "nominal", "legend": null,
                             "scale": {"range": ["#C3161E", "#F08078", "#F2A13A", "#FFD08A", "#B5D32A", "#5C9A32", "#3B6F25", "#6C7A9C"]}}
                  }
                },
                {
                  "mark": {"type": "line", "strokeWidth": 2.5, "interpolate": "monotone"},
                  "encoding": {
                    "x": {"field": "logF", "type": "quantitative"},
                    "y": {"field": "freq", "type": "quantitative"},
                    "color": {"field": "dose", "type": "nominal",
                              "scale": {"domain": ["0.07 μM", "0.12 μM", "0.20 μM", "0.33 μM", "0.55 μM", "0.91 μM", "1.52 μM", "2.53 μM"], "range": ["#C3161E", "#F08078", "#F2A13A", "#FFD08A", "#B5D32A", "#5C9A32", "#3B6F25", "#6C7A9C"]},
                              "legend": {"orient": "none", "legendX": 352, "legendY": -17, "padding": 0, "title": null, "symbolType": "stroke", "symbolStrokeWidth": 2.5, "symbolSize": 1225, "labelFontSize": 26, "rowPadding": 7.5, "labelOffset": 10}}
                  }
                }
              ]
            }
          ]
        }
      ]
    }
  ]
}
